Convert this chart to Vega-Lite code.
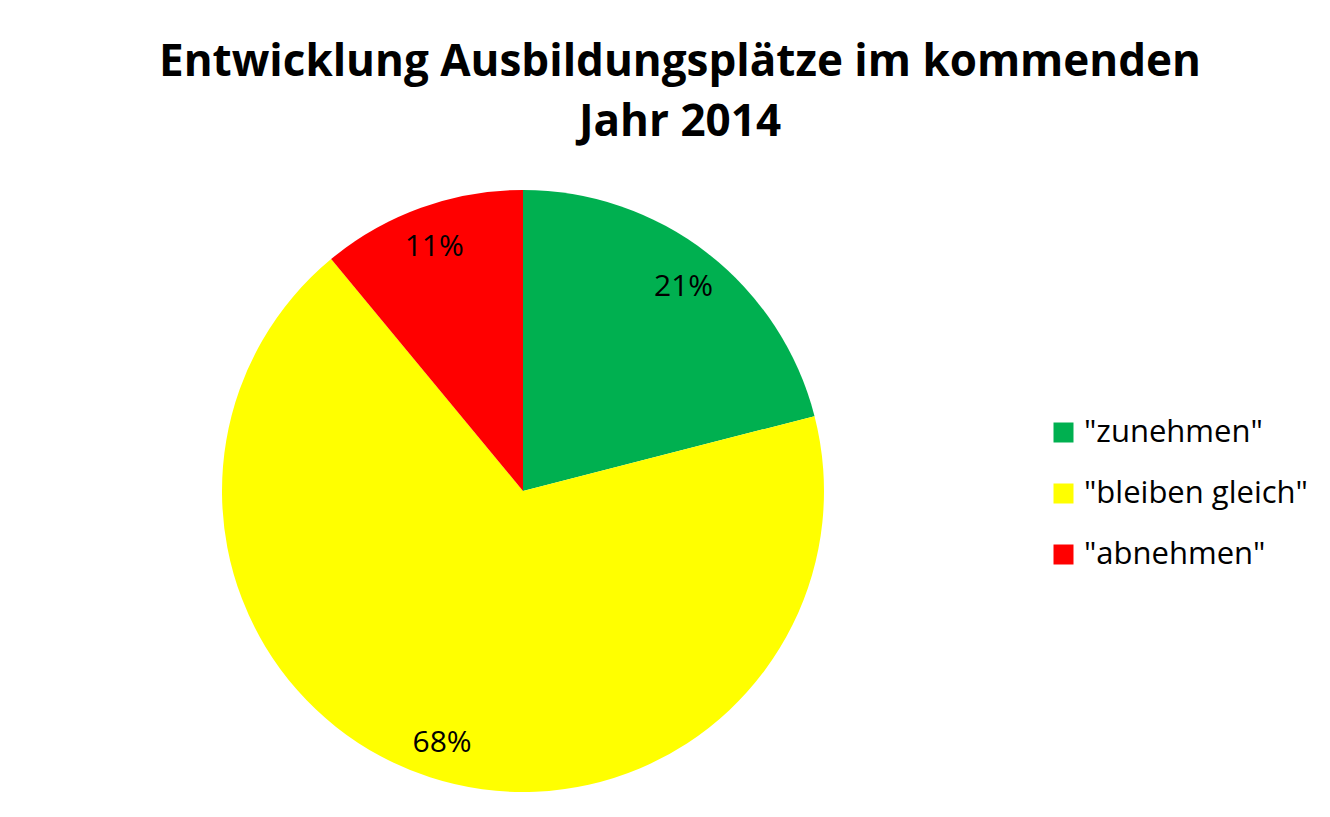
{
  "$schema": "https://vega.github.io/schema/vega-lite/v6.json",
  "width": 1046,
  "height": 982,
  "padding": 0,
  "background": "white",
  "title": {
    "text": ["Entwicklung Ausbildungsplätze im kommenden", "Jahr 2014"],
    "font": "Open Sans",
    "fontSize": 44,
    "fontWeight": "bold",
    "color": "black",
    "anchor": "middle",
    "frame": "group",
    "baseline": "alphabetic",
    "lineHeight": 60,
    "dx": 157,
    "offset": -180
  },
  "data": {
    "values": [
      {"idx": 1, "kategorie": "\"zunehmen\"", "anteil": 21, "label": "21%"},
      {"idx": 2, "kategorie": "\"bleiben gleich\"", "anteil": 68, "label": "68%"},
      {"idx": 3, "kategorie": "\"abnehmen\"", "anteil": 11, "label": "11%"}
    ]
  },
  "encoding": {
    "theta": {"field": "anteil", "type": "quantitative", "stack": true},
    "order": {"field": "idx", "type": "quantitative"}
  },
  "layer": [
    {
      "mark": {"type": "arc", "outerRadius": 301, "stroke": null},
      "encoding": {
        "color": {
          "field": "kategorie",
          "type": "nominal",
          "sort": null,
          "scale": {
            "domain": ["\"zunehmen\"", "\"bleiben gleich\"", "\"abnehmen\""],
            "range": ["#00B050", "#FFFF00", "#FF0000"]
          },
          "legend": {
            "title": null,
            "orient": "none",
            "legendX": 1048,
            "legendY": 417,
            "padding": 0,
            "labelFont": "Open Sans",
            "labelFontSize": 31,
            "labelColor": "black",
            "labelOffset": 5,
            "labelLimit": 400,
            "symbolType": "square",
            "symbolSize": 400,
            "symbolStrokeWidth": 0,
            "rowPadding": 29
          }
        }
      }
    },
    {
      "mark": {
        "type": "text",
        "radius": 262,
        "font": "Open Sans",
        "fontSize": 30,
        "color": "black",
        "align": "center",
        "baseline": "middle",
        "dy": 3
      },
      "encoding": {
        "text": {"field": "label", "type": "nominal"}
      }
    }
  ],
  "config": {
    "view": {"stroke": null}
  }
}
